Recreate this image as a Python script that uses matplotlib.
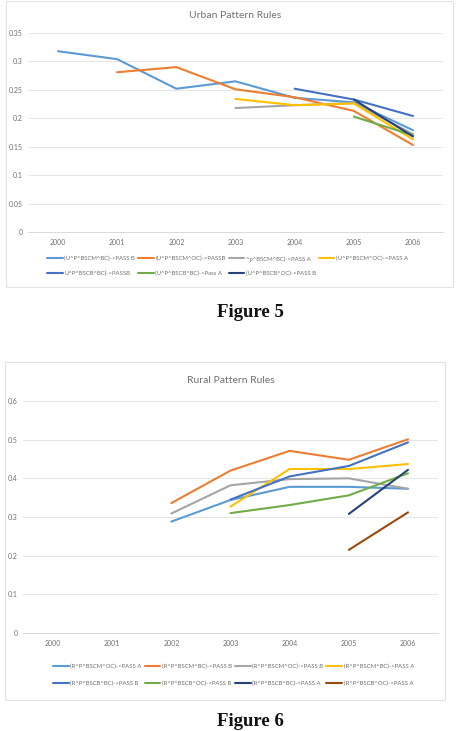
import numpy as np
import matplotlib
matplotlib.use("Agg")
import matplotlib.pyplot as plt
from matplotlib.patches import Rectangle

nan = np.nan
years = ["2000", "2001", "2002", "2003", "2004", "2005", "2006"]

urban_labels = ["(U^P^BSCM^BC)->PASS B", "(U^P^BSCM^OC)->PASSB", "^p^BSCM^BC)->PASS A",
                "(U^P^BSCM^OC)->PASS A", "U^P^BSCB^BC)->PASSB", "(U^P^BSCB^BC)->Pass A",
                "(U^P^BSCB^OC)->PASS B"]
urban_1 = [0.318, 0.304, 0.252, 0.265, 0.236, 0.228, 0.179]
urban_2 = [nan, 0.281, 0.290, 0.251, 0.237, 0.213, 0.153]
urban_3 = [nan, nan, nan, 0.218, 0.223, 0.227, 0.172]
urban_4 = [nan, nan, nan, 0.234, 0.223, 0.226, 0.163]
urban_5 = [nan, nan, nan, nan, 0.252, 0.233, 0.204]
urban_6 = [nan, nan, nan, nan, nan, 0.203, 0.170]
urban_7 = [nan, nan, nan, nan, nan, 0.233, 0.168]
urban_values = [urban_1, urban_2, urban_3, urban_4, urban_5, urban_6, urban_7]
urban_ticks = [0, 0.05, 0.1, 0.15, 0.2, 0.25, 0.3, 0.35]
urban_ticklabels = ["0", "0.05", "0.1", "0.15", "0.2", "0.25", "0.3", "0.35"]

rural_labels = ["(R^P^BSCM^OC)->PASS A", "(R^P^BSCM^BC)->PASS B", "(R^P^BSCM^OC)->PASS B",
                "(R^P^BSCM^BC)->PASS A", "(R^P^BSCB^BC)->PASS B", "(R^P^BSCB^OC)->PASS B",
                "(R^P^BSCB^BC)->PASS A", "(R^P^BSCB^OC)->PASS A"]
rural_1 = [nan, nan, 0.288, 0.344, 0.378, 0.378, 0.373]
rural_2 = [nan, nan, 0.336, 0.420, 0.471, 0.448, 0.501]
rural_3 = [nan, nan, 0.309, 0.382, 0.398, 0.400, 0.373]
rural_4 = [nan, nan, nan, 0.327, 0.424, 0.424, 0.437]
rural_5 = [nan, nan, nan, 0.345, 0.405, 0.432, 0.493]
rural_6 = [nan, nan, nan, 0.310, 0.331, 0.356, 0.413]
rural_7 = [nan, nan, nan, nan, nan, 0.308, 0.422]
rural_8 = [nan, nan, nan, nan, nan, 0.215, 0.312]
rural_values = [rural_1, rural_2, rural_3, rural_4, rural_5, rural_6, rural_7, rural_8]
rural_ticks = [0, 0.1, 0.2, 0.3, 0.4, 0.5, 0.6]
rural_ticklabels = ["0", "0.1", "0.2", "0.3", "0.4", "0.5", "0.6"]

colors = ["#5B9BD5", "#ED7D31", "#A5A5A5", "#FFC000", "#4472C4", "#70AD47", "#264478", "#9E480E"]

W, H = 461, 731
fig = plt.figure(figsize=(W / 100, H / 100), dpi=100)
fig.patch.set_facecolor("white")
FONT = "Lato"

def fx(px):
    return px / W

def fy(py):
    return 1 - py / H

# chart boxes
for (x0, y0, x1, y1) in [(6, 1, 453, 287), (5, 362, 445, 700)]:
    fig.patches.append(Rectangle((fx(x0), fy(y1)), fx(x1) - fx(x0), fy(y0) - fy(y1),
                                 transform=fig.transFigure, fill=False,
                                 edgecolor="#E3E3E3", linewidth=0.8))

def make_chart(left, right, top, bottom, ymax, ticks, ticklabels, values, labels, title,
               title_y, legend_y, legend_x, spacing):
    ax = fig.add_axes([fx(left), fy(bottom), fx(right) - fx(left), fy(top) - fy(bottom)])
    x = np.arange(len(years))
    lines = []
    for i, v in enumerate(values):
        ln, = ax.plot(x, v, color=colors[i], linewidth=1.5, solid_capstyle="round",
                      label=labels[i])
        lines.append(ln)
    ax.set_xlim(-0.5, len(years) - 0.5)
    ax.set_ylim(0, ymax)
    ax.set_yticks(ticks)
    ax.set_yticklabels(ticklabels)
    ax.set_xticks(x)
    ax.set_xticklabels(years)
    ax.grid(axis="y", color="#E6E6E6", linewidth=0.7)
    ax.set_axisbelow(True)
    for s in ["top", "right", "left"]:
        ax.spines[s].set_visible(False)
    ax.spines["bottom"].set_color("#D9D9D9")
    ax.spines["bottom"].set_linewidth(0.7)
    ax.tick_params(length=0, labelsize=5, colors="#707070")
    ax.tick_params(axis="y", pad=4)
    ax.tick_params(axis="x", pad=5)
    for t in ax.get_xticklabels() + ax.get_yticklabels():
        t.set_family(FONT)
    fig.text(fx(title_x_center := (left + right) / 2), fy(title_y), title, ha="center",
             va="center", fontsize=7.5, color="#707070", family=FONT)
    n = len(lines)
    ncol = 4
    nrow = int(np.ceil(n / ncol))
    order = []
    for c in range(ncol):
        for r in range(nrow):
            idx = r * ncol + c
            if idx < n:
                order.append(idx)
    handles = [lines[i] for i in order]
    fig.legend(handles=handles, loc="upper left", bbox_to_anchor=(fx(legend_x), fy(legend_y)),
               ncol=ncol, frameon=False, handlelength=2.6, handletextpad=0.3,
               columnspacing=0.5, labelspacing=spacing, labelcolor="#707070",
               borderaxespad=0, borderpad=0, prop={"family": FONT, "size": 4.3})
    return ax

make_chart(28.4, 442.6, 33, 232, 0.35, urban_ticks, urban_ticklabels, urban_values,
           urban_labels, "Urban Pattern Rules", 15, 256, 47, 1.6)
make_chart(23.4, 437.6, 401, 633, 0.6, rural_ticks, rural_ticklabels, rural_values,
           rural_labels, "Rural Pattern Rules", 380, 664, 53, 1.9)

fig.text(fx(250), fy(317), "Figure 5", ha="center", va="baseline", fontsize=13.5,
         fontweight="bold", family="Liberation Serif", color="#111111")
fig.text(fx(250), fy(726), "Figure 6", ha="center", va="baseline", fontsize=13.5,
         fontweight="bold", family="Liberation Serif", color="#111111")

fig.savefig("out.png", dpi=100, facecolor="white")
